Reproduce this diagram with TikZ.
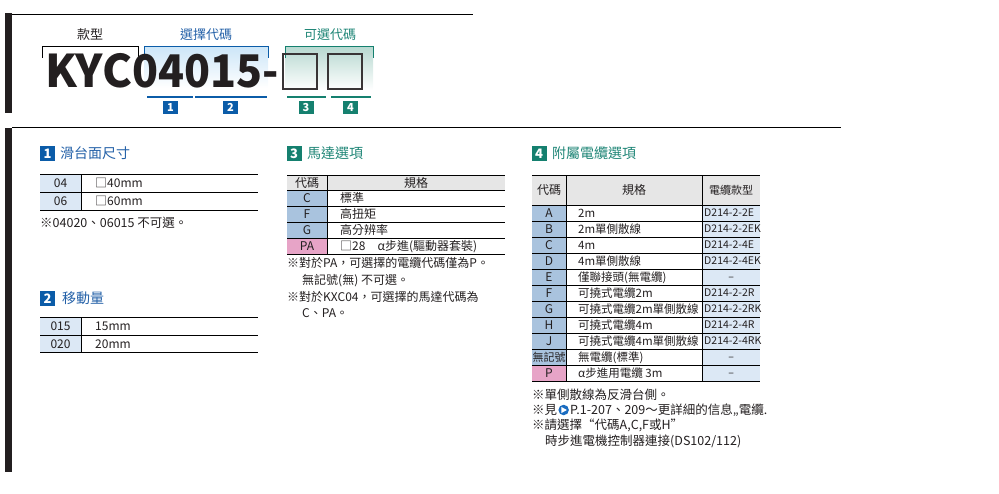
\documentclass[tikz,border=0pt]{standalone}
\usepackage{fontspec}
\setmainfont{Noto Sans CJK TC}
\usetikzlibrary{positioning}
\definecolor{barK}{HTML}{231F20}
\definecolor{blueC}{HTML}{0B5CA8}
\definecolor{blueT}{HTML}{2461A8}
\definecolor{tealC}{HTML}{15806F}
\definecolor{tealT}{HTML}{1E8576}
\definecolor{stblue}{HTML}{A9C3DE}
\definecolor{pinkC}{HTML}{E7A4C7}
\definecolor{ltblue}{HTML}{DCE8F5}
\definecolor{hdrgray}{HTML}{E6E6E6}
\definecolor{txtK}{HTML}{231F20}
\definecolor{gradB}{HTML}{CDE6F8}
\definecolor{gradT}{HTML}{B8D9D1}
\definecolor{iconB}{HTML}{1A6CC0}
\newcommand\dashcell{\makebox[54pt][c]{–}}
\tikzset{
  txt/.style={inner sep=0pt, font=\fontsize{12}{14}\selectfont, text height=10.3pt, text depth=1.7pt, text=txtK},
  lt/.style={txt, anchor=west},
  ct/.style={txt, anchor=center},
  spec/.style={txt, anchor=west, font=\fontsize{11.5}{13}\selectfont, text height=9.9pt, text depth=1.6pt},
  smt/.style={txt, anchor=west, font=\fontsize{10.5}{13}\selectfont, text height=9pt, text depth=1.5pt},
  note/.style={lt, font=\fontsize{12.5}{15}\selectfont, text height=10.75pt, text depth=1.75pt},
  ttl/.style={lt, font=\fontsize{14}{16}\selectfont, text height=12pt, text depth=2pt},
  lbl/.style={txt, anchor=center, font=\fontsize{13}{15}\selectfont, text height=11.2pt, text depth=1.8pt},
  badgeBig/.style={fill=#1, text=white, minimum width=15pt, minimum height=15pt, inner sep=0pt, font=\bfseries\fontsize{13}{13}\selectfont},
  badgeSm/.style={fill=#1, text=white, minimum width=15pt, minimum height=13pt, inner sep=0pt, font=\bfseries\fontsize{11}{11}\selectfont},
  rule/.style={draw=black, line width=0.8pt},
  bracket/.style={draw=#1, line width=1pt},
  uline/.style={draw=#1, line width=1.2pt},
  big/.style={inner sep=0pt, anchor=base west, text=barK, font=\bfseries\fontsize{45}{45}\selectfont},
  sq/.style={draw=barK!90, line width=1.8pt}
}
\begin{document}
\begin{tikzpicture}[x=1pt,y=-1pt]
\useasboundingbox (0,0) rectangle (999,494);
% frame bars and rules
\fill[barK] (5,13) rectangle (12,113);
\fill[barK] (5,128) rectangle (12,472);
\draw[draw=black, line width=1pt] (12,14.5) -- (473,14.5);
\draw[draw=black, line width=1pt] (12,128) -- (841,128);

% ---------- header ----------
\shade[top color=gradB, bottom color=white] (144,47) rectangle (268,88);
\shade[top color=gradT, bottom color=white] (285,47) rectangle (373,90);
\draw[bracket=black] (42,58) -- (42,47) -- (138,47) -- (138,58);
\draw[bracket=blueC] (144,56) -- (144,47) -- (268,47) -- (268,58);
\draw[bracket=tealC] (285,58) -- (285,47) -- (373,47) -- (373,58);
\node[lbl] (lkx) at (90,35) {款型};
\node[lbl, text=blueT] (lsel) at (206,35) {選擇代碼};
\node[lbl, text=tealT] (lopt) at (330,35) {可選代碼};
\node[big] (kyc) at (45,88) {KYC};
\node[big] (num) at (132,88) {\scalebox{0.95}[1]{04015-}};
\draw[sq] (283,54) rectangle (317,89);
\draw[sq] (328,54) rectangle (362,89);
\draw[uline=blueC] (147,97) -- (193,97);
\draw[uline=blueC] (195,97) -- (267,97);
\draw[uline=tealC] (287,97) -- (326,97);
\draw[uline=tealC] (331,97) -- (371,97);
\node[badgeSm=blueC] (hb1) at (170.5,107.5) {1};
\node[badgeSm=blueC] (hb2) at (230.5,107.5) {2};
\node[badgeSm=tealC] (hb3) at (306,107.5) {3};
\node[badgeSm=tealC] (hb4) at (350.5,107.5) {4};

% ---------- section 1 ----------
\node[badgeBig=blueC] (b1) at (47.5,154) {1};
\node[ttl, text=blueT] (t1) at (60,154) {滑台面尺寸};
\fill[ltblue] (40,174.5) rectangle (81,210);
\draw[rule] (40,174.5) -- (258,174.5);
\draw[rule] (40,192) -- (258,192);
\draw[rule] (40,210) -- (258,210);
\draw[rule] (81,174.5) -- (81,210);
\node[ct] (s1c1) at (60.5,183.2) {04};
\node[lt] (s1s1) at (95,183.2) {□40mm};
\node[ct] (s1c2) at (60.5,201) {06};
\node[lt] (s1s2) at (95,201) {□60mm};
\node[note] (s1n) at (40,223) {※04020、06015 不可選。};

% ---------- section 2 ----------
\node[badgeBig=blueC] (b2) at (47.5,298.5) {2};
\node[ttl, text=blueT] (t2) at (62,298.5) {移動量};
\fill[ltblue] (40,317.7) rectangle (81,352);
\draw[rule] (40,317.7) -- (258,317.7);
\draw[rule] (40,335.7) -- (258,335.7);
\draw[rule] (40,352) -- (258,352);
\draw[rule] (81,317.7) -- (81,352);
\node[ct] (s2c1) at (60.5,326.7) {015};
\node[lt] (s2s1) at (95,326.7) {15mm};
\node[ct] (s2c2) at (60.5,343.9) {020};
\node[lt] (s2s2) at (95,343.9) {20mm};

% ---------- section 3 ----------
\node[badgeBig=tealC] (b3) at (294,153.5) {3};
\node[ttl, text=tealT] (t3) at (307,153.5) {馬達選項};
\fill[hdrgray] (287,175.7) rectangle (505,190.7);
\fill[stblue] (287,190.7) rectangle (327,238.7);
\fill[pinkC] (287,238.7) rectangle (327,254.7);
\foreach \yy in {175.7,190.7,206.7,222.7,238.7,254.7}
  \draw[rule] (287,\yy) -- (505,\yy);
\draw[rule] (327,175.7) -- (327,254.7);
\node[ct] (s3h1) at (307,183.2) {代碼};
\node[ct] (s3h2) at (416,183.2) {規格};
\foreach \c/\s [count=\i] in {C/標準, F/高扭矩, G/高分辨率, PA/□28　α步進(驅動器套裝)} {
  \node[ct] (s3c\i) at (307,182.7+16*\i) {\c};
  \node[lt] (s3s\i) at (340,182.7+16*\i) {\s};
}
\node[lt] (s3n1) at (287,263) {※對於PA，可選擇的電纜代碼僅為P。};
\node[lt] (s3n2) at (302,280) {無記號(無) 不可選。};
\node[lt] (s3n3) at (287,297) {※對於KXC04，可選擇的馬達代碼為};
\node[lt] (s3n4) at (302,313) {C、PA。};

% ---------- section 4 ----------
\node[badgeBig=tealC] (b4) at (539,153.5) {4};
\node[ttl, text=tealT] (t4) at (552,153.5) {附屬電纜選項};
\fill[hdrgray] (532,175.7) rectangle (760,205);
\fill[stblue] (532,205) rectangle (566,365);
\fill[pinkC] (532,365) rectangle (566,381);
\fill[ltblue] (702,205) rectangle (760,381);
\draw[rule] (532,175.7) -- (760,175.7);
\foreach \k in {0,...,11}
  \draw[rule] (532,205+16*\k) -- (760,205+16*\k);
\draw[rule] (566,175.7) -- (566,381);
\draw[rule] (702,175.7) -- (702,381);
\node[ct] (s4h1) at (549,190.3) {代碼};
\node[ct] (s4h2) at (634,190.3) {規格};
\node[ct, font=\fontsize{11}{13}\selectfont] (s4h3) at (731,190.3) {電纜款型};
\foreach \c/\s/\k [count=\i] in {A/2m/D214-2-2E, B/2m單側散線/D214-2-2EK, C/4m/D214-2-4E, D/4m單側散線/D214-2-4EK, E/僅聯接頭(無電纜)/\dashcell, F/可撓式電纜2m/D214-2-2R, G/可撓式電纜2m單側散線/D214-2-2RK, H/可撓式電纜4m/D214-2-4R, J/可撓式電纜4m單側散線/D214-2-4RK, {\fontsize{11}{13}\selectfont 無記號}/無電纜(標準)/\dashcell, P/α步進用電纜 3m/\dashcell} {
  \node[ct] (s4c\i) at (549,197+16*\i) {\c};
  \node[spec] (s4s\i) at (578,197+16*\i) {\s};
  \node[smt] (s4k\i) at (704,197+16*\i) {\k};
}
\node[note] (s4n1) at (532,395) {※單側散線為反滑台側。};
\node[note] (s4n2) at (532,410) {※見};
\node[circle, fill=iconB, minimum size=10.5pt, inner sep=0pt, right=0.8pt of s4n2] (ico) {};
\fill[white] ([xshift=-2.2pt,yshift=3pt]ico.center) -- ([xshift=3.2pt]ico.center) -- ([xshift=-2.2pt,yshift=-3pt]ico.center) -- cycle;
\node[note, right=0.8pt of ico] (s4n2b) {P.1-207、209～更詳細的信息,,電纜.};
\node[note] (s4n3) at (532,425) {※請選擇“代碼A,C,F或H”};
\node[note] (s4n4) at (545,441) {時步進電機控制器連接(DS102/112)};
\end{tikzpicture}
\end{document}
